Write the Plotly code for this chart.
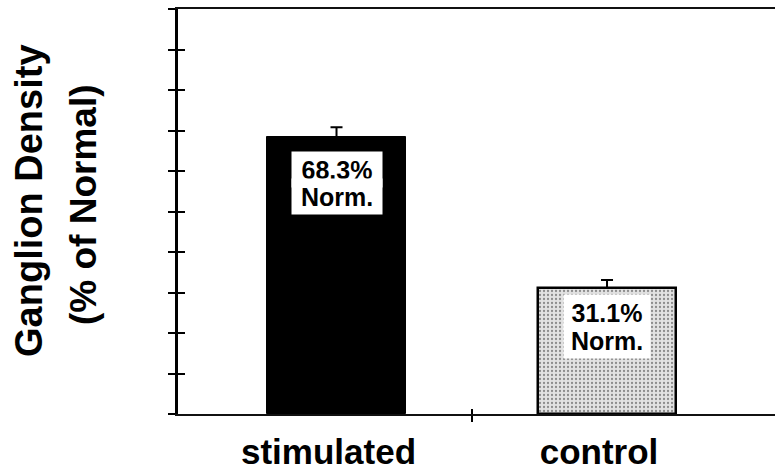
import plotly.graph_objects as go

# ---- data ----
categories = ["stimulated", "control"]
x_pos = [0, 1]
values = [68.3, 31.1]
errors = [2.5, 2.0]
label_pct = ["68.3%", "31.1%"]
label_norm = ["Norm.", "Norm."]
y_ticks = [0, 10, 20, 30, 40, 50, 60, 70, 80, 90, 100]
boundary_ticks = [0.5]

FONT = "Liberation Sans, Arial, sans-serif"

fig = go.Figure()

# stimulated bar (solid black)
fig.add_trace(go.Bar(
    x=[x_pos[0]], y=[values[0]], width=0.513,
    marker=dict(color="#000000", line=dict(color="#000000", width=1)),
    error_y=dict(type="data", array=[errors[0]], symmetric=False, arrayminus=[0],
                 color="#000000", thickness=2, width=6),
    showlegend=False, hoverinfo="skip",
))
# control bar (light stippled grey)
fig.add_trace(go.Bar(
    x=[x_pos[1]], y=[values[1]], width=0.513,
    marker=dict(color="#dcdcdc",
                line=dict(color="#000000", width=2.5),
                pattern=dict(shape=".", fgcolor="#8c8c8c", bgcolor="#e2e2e2",
                             size=4, solidity=0.25, fillmode="replace")),
    error_y=dict(type="data", array=[errors[1]], symmetric=False, arrayminus=[0],
                 color="#000000", thickness=2, width=6),
    showlegend=False, hoverinfo="skip",
))

# invisible carrier traces so the overlay axes (crossing ticks, category labels) are drawn
fig.add_trace(go.Scatter(x=x_pos, y=values, xaxis="x2", yaxis="y", mode="markers",
                         marker=dict(opacity=0), showlegend=False, hoverinfo="skip"))
fig.add_trace(go.Scatter(x=x_pos, y=values, xaxis="x3", yaxis="y", mode="markers",
                         marker=dict(opacity=0), showlegend=False, hoverinfo="skip"))
fig.add_trace(go.Scatter(x=x_pos, y=values, xaxis="x", yaxis="y2", mode="markers",
                         marker=dict(opacity=0), showlegend=False, hoverinfo="skip"))

# value labels inside bars: white boxes, two lines
line_offsets = [(8.0, 14.5), (6.0, 13.0)]  # distance below bar top for line 1 / line 2
for i, x in enumerate(x_pos):
    o1, o2 = line_offsets[i]
    for txt, off, h in [(label_pct[i], o1, 33), (label_norm[i], o2, 33)]:
        fig.add_annotation(
            x=x, y=values[i] - off, xref="x", yref="y",
            text="<b>%s</b>" % txt, showarrow=False,
            font=dict(family=FONT, size=25, color="#000000"),
            bgcolor="#ffffff", width=88 if i == 0 else 84, height=h,
            xanchor="center", yanchor="middle",
        )

# y title (two lines)
fig.add_annotation(
    x=0, y=0.526, xref="paper", yref="paper", xshift=-149,
    text="<b>Ganglion Density</b>", textangle=-90, showarrow=False,
    font=dict(family=FONT, size=38, color="#000000"),
    xanchor="center", yanchor="middle",
)
fig.add_annotation(
    x=0, y=0.516, xref="paper", yref="paper", xshift=-95,
    text="<b>(% of Normal)</b>", textangle=-90, showarrow=False,
    font=dict(family=FONT, size=37, color="#000000"),
    xanchor="center", yanchor="middle",
)

x_range = [-0.586, 1.621]
y_range = [0, 100]

fig.update_layout(
    width=775, height=470,
    margin=dict(l=178, r=0, t=9, b=56),
    paper_bgcolor="#ffffff", plot_bgcolor="#ffffff",
    bargap=0,
    xaxis=dict(range=x_range, tickvals=boundary_ticks, ticktext=[""],
               ticks="outside", ticklen=6, tickwidth=1.5, tickcolor="#000",
               showline=True, linecolor="#111111", linewidth=1.5, mirror=True,
               showgrid=False, zeroline=False, fixedrange=True),
    xaxis2=dict(range=x_range, overlaying="x", anchor="y", side="bottom",
                tickvals=boundary_ticks, ticktext=[""],
                ticks="inside", ticklen=5, tickwidth=1.5, tickcolor="#000",
                showline=False, showgrid=False, zeroline=False, fixedrange=True),
    xaxis3=dict(range=x_range, overlaying="x", anchor="y", side="bottom",
                tickvals=x_pos, ticktext=["<b>%s</b>" % c for c in categories],
                ticks="", showline=False, showgrid=False, zeroline=False,
                tickfont=dict(family=FONT, size=35, color="#000000"),
                ticklabelstandoff=14, ticklabelshift=-8, fixedrange=True),
    yaxis=dict(range=y_range, tickvals=y_ticks, showticklabels=False,
               ticks="outside", ticklen=7, tickwidth=1.5, tickcolor="#000",
               showline=True, linecolor="#000000", linewidth=2.5,
               showgrid=False, zeroline=False, fixedrange=True),
    yaxis2=dict(range=y_range, overlaying="y", anchor="x", side="left",
                tickvals=y_ticks, showticklabels=False,
                ticks="inside", ticklen=7, tickwidth=1.5, tickcolor="#000",
                showline=False, showgrid=False, zeroline=False, fixedrange=True),
)

fig.write_html("out.html")
